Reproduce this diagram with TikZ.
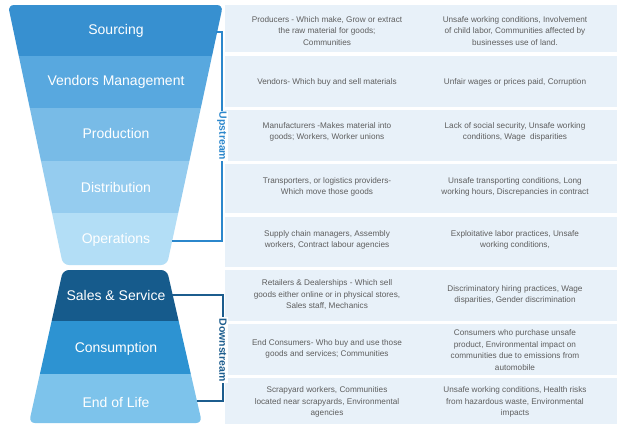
\documentclass[tikz,border=0pt]{standalone}
\usepackage{fontspec}
\setmainfont{Liberation Sans}
\definecolor{cA}{HTML}{3790D0}
\definecolor{cB}{HTML}{58A8DF}
\definecolor{cC}{HTML}{78BBE7}
\definecolor{cD}{HTML}{95CCEF}
\definecolor{cE}{HTML}{B3DEF6}
\definecolor{dA}{HTML}{165B8C}
\definecolor{dB}{HTML}{2D93D2}
\definecolor{dC}{HTML}{7DC3EB}
\definecolor{panel}{HTML}{E8F1F9}
\definecolor{upcol}{HTML}{2B87CC}
\definecolor{downcol}{HTML}{1C5D8E}
\definecolor{textgray}{HTML}{5E5E5E}
\begin{document}
\begin{tikzpicture}[x=1pt,y=-1pt,
  flab/.style={text=white,font=\fontsize{14}{16}\selectfont,inner sep=0pt},
  ctext/.style={text=textgray,font=\fontsize{8.2}{11.5}\selectfont,align=center,inner sep=0pt},
  brk/.style={line width=1.2pt},
  blab/.style={font=\bfseries\fontsize{10.5}{12}\selectfont,fill=white,inner sep=1pt,rotate=-90}
]
\useasboundingbox (0,0) rectangle (619,424);
\fill[white] (0,0) rectangle (619,424);
% table panels
\foreach \t/\b in {5/52,56/107,110/161,164/213,217/267,270/321,324/375,378/424}
  \fill[panel] (225,\t) rectangle (617,\b);
% upper funnel
\begin{scope}
\clip[rounded corners=6pt] (8,5) -- (223,5) -- (167,265) -- (63,265) -- cycle;
\fill[cA] (0,0) rectangle (240,56);
\fill[cB] (0,56) rectangle (240,108);
\fill[cC] (0,108) rectangle (240,161);
\fill[cD] (0,161) rectangle (240,213);
\fill[cE] (0,213) rectangle (240,270);
\end{scope}
% lower funnel
\begin{scope}
\clip[rounded corners=6pt] (63,270) -- (167,270) -- (202,423) -- (29,423) -- cycle;
\fill[dA] (0,265) rectangle (240,321);
\fill[dB] (0,321) rectangle (240,374);
\fill[dC] (0,374) rectangle (240,430);
\end{scope}
% funnel labels
\node[flab] (sourcing) at (116,31) {Sourcing};
\node[flab] (vendors) at (116,82) {Vendors Management};
\node[flab] (production) at (116,133) {Production};
\node[flab] (distribution) at (116,187) {Distribution};
\node[flab] (operations) at (116,240) {Operations};
\node[flab] (sales) at (116,295) {Sales \& Service};
\node[flab] (consumption) at (116,349) {Consumption};
\node[flab] (endoflife) at (116,402) {End of Life};
% column 2
\node[ctext] (p1) at (327,31) {Producers - Which make, Grow or extract\\the raw material for goods;\\Communities};
\node[ctext] (p2) at (327,82) {Vendors- Which buy and sell materials};
\node[ctext] (p3) at (327,132) {Manufacturers -Makes material into\\goods; Workers, Worker unions};
\node[ctext] (p4) at (327,187) {Transporters, or logistics providers-\\Which move those goods};
\node[ctext] (p5) at (327,240) {Supply chain managers, Assembly\\workers, Contract labour agencies};
\node[ctext] (p6) at (327,295) {Retailers \& Dealerships - Which sell\\goods either online or in physical stores,\\Sales staff, Mechanics};
\node[ctext] (p7) at (327,349) {End Consumers- Who buy and use those\\goods and services; Communities};
\node[ctext] (p8) at (327,402) {Scrapyard workers, Communities\\located near scrapyards, Environmental\\agencies};
% column 3
\node[ctext] (r1) at (515,31) {Unsafe working conditions, Involvement\\of child labor, Communities affected by\\businesses use of land.};
\node[ctext] (r2) at (515,82) {Unfair wages or prices paid, Corruption};
\node[ctext] (r3) at (515,132) {Lack of social security, Unsafe working\\conditions, Wage\ \ disparities};
\node[ctext] (r4) at (515,187) {Unsafe transporting conditions, Long\\working hours, Discrepancies in contract};
\node[ctext] (r5) at (515,240) {Exploitative labor practices, Unsafe\\working conditions,};
\node[ctext] (r6) at (515,295) {Discriminatory hiring practices, Wage\\disparities, Gender discrimination};
\node[ctext] (r7) at (515,350) {Consumers who purchase unsafe\\product, Environmental impact on\\communities due to emissions from\\automobile};
\node[ctext] (r8) at (515,402) {Unsafe working conditions, Health risks\\from hazardous waste, Environmental\\impacts};
% upstream bracket
\coordinate (upA) at (216,32);
\coordinate (upB) at (222,32);
\coordinate (upC) at (222,241);
\coordinate (upD) at (172,241);
\draw[brk,upcol] (upA) -- (upB) -- (upC) -- (upD);
\node[blab,text=upcol] (upstream) at (222,136) {Upstream};
% downstream bracket
\coordinate (dnA) at (172,295);
\coordinate (dnB) at (223,295);
\coordinate (dnC) at (223,401);
\coordinate (dnD) at (197,401);
\draw[brk,downcol] (dnA) -- (dnB) -- (dnC) -- (dnD);
\node[blab,text=downcol] (downstream) at (223,350) {Downstream};
\end{tikzpicture}
\end{document}
